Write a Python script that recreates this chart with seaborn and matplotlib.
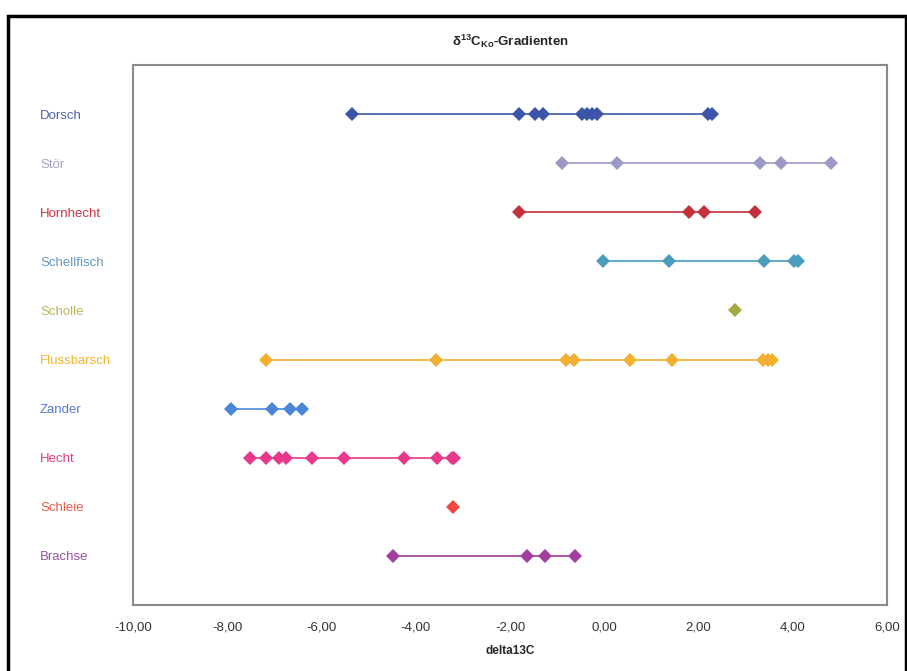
import numpy as np
import pandas as pd
import seaborn as sns
import matplotlib.pyplot as plt
from matplotlib.patches import Rectangle

# Fischarten von oben nach unten
fish = ['Dorsch', 'Stör', 'Hornhecht', 'Schellfisch', 'Scholle',
        'Flussbarsch', 'Zander', 'Hecht', 'Schleie', 'Brachse']

# delta13C-Werte je Art
dorsch = [-5.35, -1.80, -1.46, -1.29, -0.47, -0.36, -0.25, -0.15, 2.21, 2.29]
stoer = [-0.89, 0.28, 3.31, 3.76, 4.82]
hornhecht = [-1.80, 1.80, 2.12, 3.20]
schellfisch = [-0.02, 1.38, 3.40, 4.03, 4.12]
scholle = [2.78]
flussbarsch = [-7.17, -3.56, -0.81, -0.64, 0.54, 1.44, 3.37, 3.48, 3.56]
zander = [-7.92, -7.05, -6.66, -6.41]
hecht = [-7.51, -7.17, -6.90, -6.75, -6.20, -5.52, -4.24, -3.54, -3.23, -3.18]
schleie = [-3.20]
brachse = [-4.48, -1.63, -1.25, -0.62]

values = [dorsch, stoer, hornhecht, schellfisch, scholle,
          flussbarsch, zander, hecht, schleie, brachse]

point_colors = ['#3c55a8', '#9c98c8', '#c4303c', '#4c9cbc', '#a8a840',
                '#f2b030', '#4a86d8', '#e8388a', '#f04840', '#a0409c']
label_colors = ['#5060a8', '#a8a4c4', '#c83844', '#6098bc', '#b8b460',
                '#f4b428', '#5878cc', '#e03c84', '#e85848', '#9850a0']

x_ticks = [-10, -8, -6, -4, -2, 0, 2, 4, 6]

rows = []
for i, (name, vals) in enumerate(zip(fish, values)):
    for v in vals:
        rows.append({'fish': name, 'pos': i + 1, 'delta13C': v})
df = pd.DataFrame(rows)

sns.set_style('white')
plt.rcParams['font.family'] = ['Liberation Sans', 'DejaVu Sans']
plt.rcParams['mathtext.fontset'] = 'custom'
plt.rcParams['mathtext.rm'] = 'Liberation Sans'
plt.rcParams['mathtext.it'] = 'Liberation Sans:italic'
plt.rcParams['mathtext.bf'] = 'Liberation Sans:bold'

fig = plt.figure(figsize=(9.07, 6.71), dpi=100)
ax = fig.add_axes([133 / 907, 1 - 605 / 671, (887 - 133) / 907, (605 - 65) / 671])

palette = dict(zip(fish, point_colors))
sns.lineplot(data=df, x='delta13C', y='pos', hue='fish', palette=palette,
             units='fish', estimator=None, sort=True, marker='D',
             markersize=7, markeredgewidth=0, linewidth=1.2,
             legend=False, ax=ax)

ax.set_xlim(-10, 6)
ax.set_ylim(11, 0)
ax.set_xticks(x_ticks)
ax.set_xticklabels([f'{t:.2f}'.replace('.', ',') for t in x_ticks])
ax.set_yticks(range(1, len(fish) + 1))
ax.set_yticklabels(fish)
for lab, c in zip(ax.get_yticklabels(), label_colors):
    lab.set_color(c)
    lab.set_horizontalalignment('left')
ax.tick_params(axis='y', length=0, pad=67, labelsize=9.5)
ax.tick_params(axis='x', length=4, width=1, color='#888888', direction='out',
               labelsize=9.5, labelcolor='#333333', pad=8)
ax.set_ylabel('')
ax.set_xlabel('delta13C', fontsize=8.5, fontweight='bold', labelpad=8)
ax.set_title(r'$\mathbf{\delta^{13}C_{Ko}}$-Gradienten', fontsize=9.5,
             fontweight='bold', pad=14)

for s in ax.spines.values():
    s.set_color('#8a8a8a')
    s.set_linewidth(1.5)

# Rahmen des Diagrammbereichs
fig.patches.append(Rectangle((8 / 907, -0.05), 0.99, 1 - 16 / 671 + 0.05,
                             transform=fig.transFigure, fill=False,
                             edgecolor='black', linewidth=2.5))

fig.savefig('out.png', dpi=100)
